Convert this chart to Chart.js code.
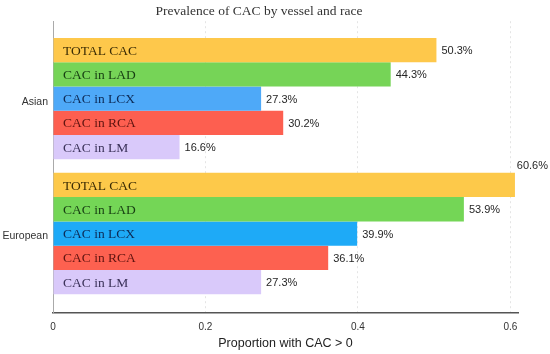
<!DOCTYPE html>
<html>
<head>
<meta charset="utf-8">
<script src="https://cdn.jsdelivr.net/npm/chart.js@4"></script>
<style>
  html, body { margin: 0; padding: 0; background: #fff; }
</style>
</head>
<body>
<canvas id="cac" width="550" height="354"></canvas>
<script>
// data
const groups   = ['Asian', 'European'];
const vessels  = ['TOTAL CAC', 'CAC in LAD', 'CAC in LCX', 'CAC in RCA', 'CAC in LM'];
const asian    = [0.503, 0.443, 0.273, 0.302, 0.166];
const european = [0.606, 0.539, 0.399, 0.361, 0.273];
const xTicks   = [0, 0.2, 0.4, 0.6];

// [Asian, European] fill per vessel
const barColors = [
  ['#fec84b', '#fdc94a'],
  ['#76d457', '#74d656'],
  ['#4ea9f8', '#1eaaf7'],
  ['#fd5f50', '#fd6150'],
  ['#d9c9fa', '#d9c9fa']
];
const textColors = ['#3b2c05', '#163d12', '#0d2a55', '#5e1410', '#3a3158'];

const datasets = vessels.map((name, i) => ({
  label: name,
  data: [{ x: asian[i], y: 0 }, { x: european[i], y: 1 }],
  backgroundColor: barColors[i],
  borderWidth: 0
}));

// names inside the bars, percentages at the bar ends
const barText = {
  id: 'barText',
  afterDatasetsDraw(chart) {
    const ctx = chart.ctx;
    const area = chart.chartArea;
    ctx.save();
    chart.data.datasets.forEach((ds, i) => {
      chart.getDatasetMeta(i).data.forEach((bar, j) => {
        ctx.textBaseline = 'middle';
        ctx.textAlign = 'left';
        ctx.font = '13.5px "Liberation Serif", "Times New Roman", serif';
        ctx.fillStyle = textColors[i];
        ctx.fillText(ds.label, area.left + 10, bar.y + 1);

        const txt = (ds.data[j].x * 100).toFixed(1) + '%';
        ctx.font = '11px "Liberation Sans", Arial, sans-serif';
        ctx.fillStyle = '#262626';
        const w = ctx.measureText(txt).width;
        if (bar.x + 5 + w > chart.width - 2) {
          ctx.textAlign = 'right';
          ctx.textBaseline = 'bottom';
          ctx.fillText(txt, chart.width - 2, bar.y - bar.height / 2 - 1);
        } else {
          ctx.fillText(txt, bar.x + 5, bar.y + 1);
        }
      });
    });
    ctx.restore();
  }
};

new Chart(document.getElementById('cac'), {
  type: 'bar',
  data: { datasets },
  plugins: [barText],
  options: {
    indexAxis: 'y',
    responsive: false,
    animation: false,
    devicePixelRatio: 1,
    layout: { padding: { left: 0, right: 32, top: 0, bottom: 2 } },
    categoryPercentage: 0.9,
    barPercentage: 1.0,
    plugins: {
      legend: { display: false },
      tooltip: { enabled: false },
      title: {
        display: true,
        text: 'Prevalence of CAC by vessel and race',
        color: '#333',
        font: { family: '"Liberation Serif", "Times New Roman", serif', size: 13.5, weight: 'normal' },
        padding: { top: 3, bottom: 2 }
      }
    },
    scales: {
      x: {
        type: 'linear',
        min: 0,
        max: 0.61,
        afterBuildTicks: s => { s.ticks = xTicks.map(v => ({ value: v })); },
        afterFit: s => { s.height = 39; },
        ticks: {
          color: '#333',
          padding: 8,
          font: { family: '"Liberation Sans", Arial, sans-serif', size: 10 }
        },
        grid: { color: '#e4e4e4', drawTicks: false },
        border: { color: '#555', width: 1.4, dash: [2, 3] },
        title: {
          display: true,
          text: 'Proportion with CAC > 0',
          color: '#222',
          font: { family: '"Liberation Sans", Arial, sans-serif', size: 12.5 },
          padding: { top: 1, bottom: 1 }
        }
      },
      y: {
        type: 'linear',
        reverse: true,
        offset: false,
        min: -0.574,
        max: 1.589,
        afterBuildTicks: s => { s.ticks = groups.map((g, i) => ({ value: i })); },
        afterFit: s => { s.width = 53; },
        ticks: {
          color: '#333',
          padding: 5,
          labelOffset: 3,
          callback: v => groups[v] ?? '',
          font: { family: '"Liberation Sans", Arial, sans-serif', size: 10.5 }
        },
        grid: { display: false, drawTicks: false },
        border: { display: true, color: '#aaa', width: 1 }
      }
    }
  }
});
</script>
</body>
</html>
